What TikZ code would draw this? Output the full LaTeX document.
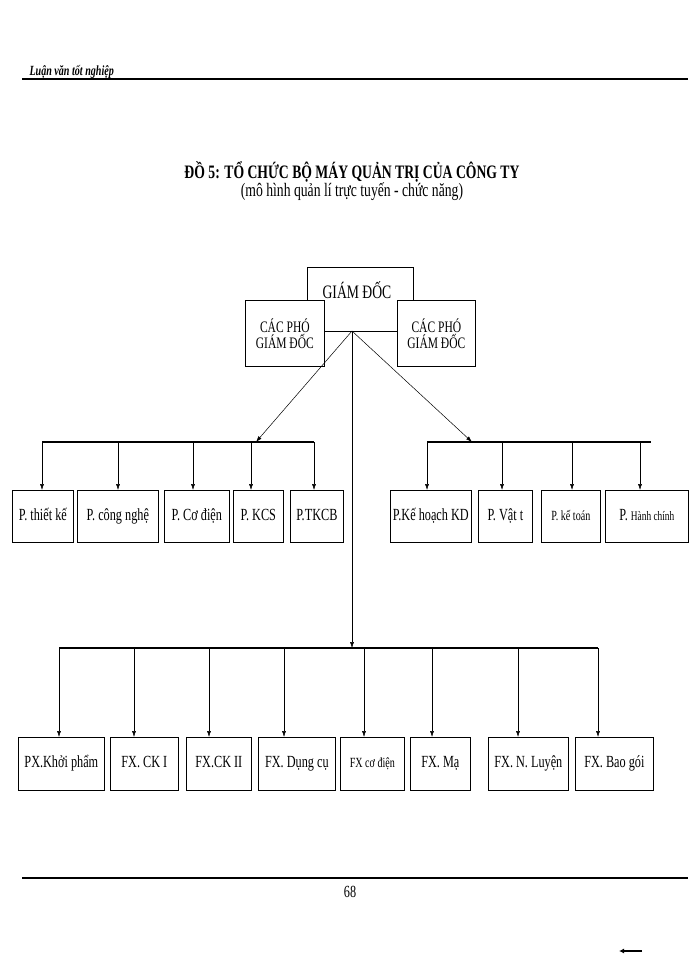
\documentclass[tikz,border=0pt]{standalone}
\usepackage{fontspec}
\setmainfont[FakeStretch=0.72]{Liberation Serif}
\usetikzlibrary{arrows.meta}
\begin{document}
\begin{tikzpicture}[x=1pt,y=-1pt,
  bx/.style={draw,line width=0.7pt,fill=white,inner sep=0pt,text height=11pt,text depth=3pt,font=\fontsize{17}{18}\selectfont},
  arr/.style={-{Latex[length=6pt,width=4pt]},line width=0.5pt},
  bar/.style={line width=1.2pt}]
\useasboundingbox (0,0) rectangle (700,960);
\fill[white] (0,0) rectangle (700,960);
% header/footer
\node[anchor=base west,font=\itshape\bfseries\fontsize{14}{14}\selectfont] (hdr) at (26,76) {Luận văn tốt nghiệp};
\coordinate (h1) at (22,79); \coordinate (h2) at (688,79);
\draw[line width=1.4pt] (h1) -- (h2);
\node[font=\bfseries\fontsize{19}{20}\selectfont] (t1) at (352,172) {ĐỒ 5: TỔ CHỨC BỘ MÁY QUẢN TRỊ CỦA CÔNG TY};
\node[font=\fontsize{19}{20}\selectfont] (t2) at (352,192) {(mô hình quản lí trực tuyến - chức năng)};
\coordinate (f1) at (22,878); \coordinate (f2) at (688,878);
\draw[line width=1.4pt] (f1) -- (f2);
\node[font=\fontsize{17}{18}\selectfont] (pg) at (350,892) {68};
\coordinate (a1) at (642,951); \coordinate (a2) at (619,951);
\draw[-{Latex[length=5pt,width=5pt]},line width=1.2pt] (a1) -- (a2);
% top
\node[bx,minimum width=106pt,minimum height=64pt,anchor=north west] (gd) at (307,267) {};
\node[font=\fontsize{19}{20}\selectfont] (gdt) at (357,290) {GIÁM ĐỐC};
\node[bx,minimum width=79pt,minimum height=66pt,anchor=north west,align=center,text height=,text depth=,font=\fontsize{16}{16}\selectfont] (pl) at (245,300) {CÁC PHÓ\\GIÁM ĐỐC};
\node[bx,minimum width=78pt,minimum height=66pt,anchor=north west,align=center,text height=,text depth=,font=\fontsize{16}{16}\selectfont] (pr) at (397,300) {CÁC PHÓ\\GIÁM ĐỐC};
\coordinate (hub) at (352,331);
\coordinate (la) at (256,442); \coordinate (ra) at (472,442); \coordinate (ba) at (352,648);
\draw[arr] (hub) -- (la);
\draw[arr] (hub) -- (ra);
\draw[arr] (hub) -- (ba);
% left row
\coordinate (lb1) at (42,442); \coordinate (lb2) at (314,442);
\draw[bar] (lb1) -- (lb2);
\foreach \n/\a/\b/\d/\t in {l1/12/73/42/P. thiết kế, l2/77/158/118/P. công nghệ, l3/164/229/193/P. Cơ điện, l4/233/283/251/P. KCS, l5/290/343/314/P.TKCB}{
  \node[bx,minimum width=\b-\a,minimum height=52pt,anchor=north west] (\n) at (\a,490) {\t};
  \coordinate (\n d) at (\d,442);
  \draw[arr] (\n d) -- (\d,490);
}
% right row
\coordinate (rb1) at (427,442); \coordinate (rb2) at (651,442);
\draw[bar] (rb1) -- (rb2);
\foreach \n/\a/\b/\d/\t in {r1/390/471/427/P.Kế hoạch KD, r2/478/532/502/P. Vật t, r3/541/600/572/{\fontsize{14}{14}\selectfont P. kế toán}, r4/605/688/640/{P. {\fontsize{13}{14}\selectfont Hành chính}}}{
  \node[bx,minimum width=\b-\a,minimum height=52pt,anchor=north west] (\n) at (\a,490) {\t};
  \coordinate (\n d) at (\d,442);
  \draw[arr] (\n d) -- (\d,490);
}
% bottom row
\coordinate (bb1) at (59,648); \coordinate (bb2) at (598,648);
\draw[bar] (bb1) -- (bb2);
\foreach \n/\a/\b/\d/\t in {b1/18/104/59/PX.Khởi phẩm, b2/110/178/134/FX. CK I, b3/186/251/209/FX.CK II, b4/258/335/284/FX. Dụng cụ, b5/340/404/364/{\fontsize{14}{14}\selectfont FX cơ điện}, b6/410/470/432/FX. Mạ, b7/488/568/518/FX. N. Luyện, b8/575/653/598/FX. Bao gói}{
  \node[bx,minimum width=\b-\a,minimum height=53pt,anchor=north west] (\n) at (\a,737) {\t};
  \coordinate (\n d) at (\d,648);
  \draw[arr] (\n d) -- (\d,737);
}
\end{tikzpicture}
\end{document}
